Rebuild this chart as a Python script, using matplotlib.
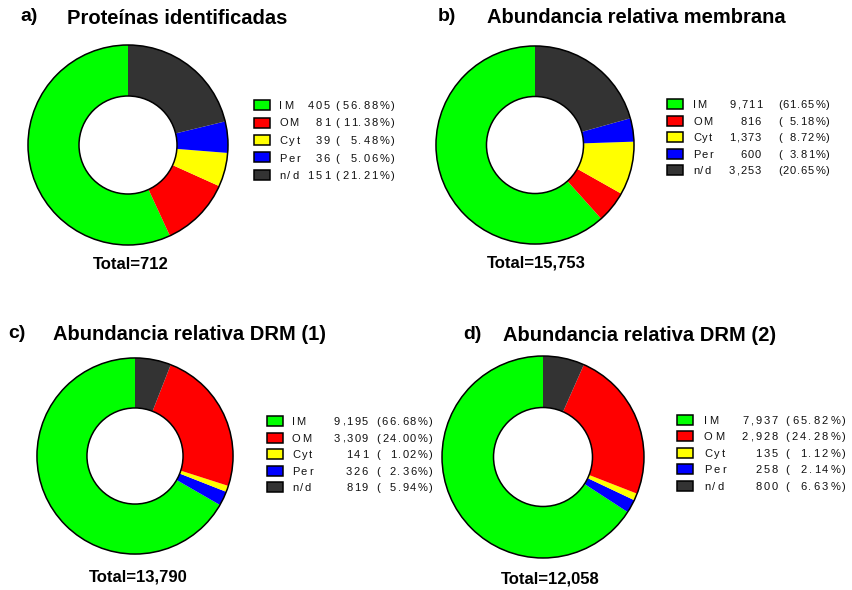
import matplotlib
matplotlib.use("Agg")
import matplotlib.pyplot as plt
from matplotlib.font_manager import FontProperties
from matplotlib.patches import Circle, Rectangle

plt.rcParams['font.family'] = ['Liberation Sans', 'DejaVu Sans']

# data
categories = ["IM", "OM", "Cyt", "Per", "n/d"]
colors = {"IM": "#00ff00", "OM": "#ff0000", "Cyt": "#ffff00",
          "Per": "#0000ff", "n/d": "#333333"}

titles = ["Proteínas identificadas", "Abundancia relativa membrana",
          "Abundancia relativa DRM (1)", "Abundancia relativa DRM (2)"]
tags = ["a)", "b)", "c)", "d)"]

counts_a = [405, 81, 39, 36, 151]
counts_b = [9711, 816, 1373, 600, 3253]
counts_c = [9195, 3309, 141, 326, 819]
counts_d = [7937, 2928, 135, 258, 800]

# wedge order (counter-clockwise from 12 o'clock)
order_a = ["IM", "OM", "Cyt", "Per", "n/d"]
order_b = ["IM", "OM", "Cyt", "Per", "n/d"]
order_c = ["IM", "Per", "Cyt", "OM", "n/d"]
order_d = ["IM", "Per", "Cyt", "OM", "n/d"]

W, H = 852, 590
fig = plt.figure(figsize=(W / 100, H / 100), dpi=100)
renderer = fig.canvas.get_renderer()

# layout in pixels
panels = [
    dict(counts=counts_a, order=order_a, cx=128, cy=145, r=102,
         tag=(20, 21), title=(67, 24), total=(131, 269),
         leg=dict(box=254, lab=279, cnt=330, par=335, end=395, y0=105, dy=17.5, tr=1.9)),
    dict(counts=counts_b, order=order_b, cx=535, cy=145, r=101,
         tag=(438, 21), title=(487, 23), total=(536, 268),
         leg=dict(box=667, lab=693, cnt=761, par=778, end=830, y0=104, dy=16.6, tr=1.1)),
    dict(counts=counts_c, order=order_c, cx=135, cy=456, r=100,
         tag=(8, 338), title=(53, 340), total=(138, 582),
         leg=dict(box=267, lab=292, cnt=368, par=376, end=433, y0=421, dy=16.6, tr=1.6)),
    dict(counts=counts_d, order=order_d, cx=543, cy=457, r=103,
         tag=(463, 339), title=(503, 341), total=(550, 583),
         leg=dict(box=677, lab=704, cnt=778, par=785, end=846, y0=420, dy=16.4, tr=2.1)),
]

leg_fp = FontProperties(family='Liberation Sans', size=8)


def width_px(s, fp):
    w, _, _ = renderer.get_text_width_height_descent("|" + s + "|", fp, ismath=False)
    w0, _, _ = renderer.get_text_width_height_descent("||", fp, ismath=False)
    return w - w0


def spaced_text(x, y, s, fp, track, ha='left'):
    # letter-spaced text, x/y in pixels (y = baseline)
    total = width_px(s, fp) + track * (len(s) - 1)
    if ha == 'right':
        x = x - total
    for i, ch in enumerate(s):
        if ch == " ":
            continue
        xi = x + width_px(s[:i], fp) + track * i
        fig.text(xi / W, 1 - y / H, ch, fontproperties=fp,
                 ha='left', va='baseline', color='#111111')


for k, p in enumerate(panels):
    counts = dict(zip(categories, p['counts']))
    total = sum(p['counts'])
    cx, cy, r = p['cx'], p['cy'], p['r']
    ax = fig.add_axes([(cx - r) / W, 1 - (cy + r) / H, 2 * r / W, 2 * r / H])
    vals = [counts[c] for c in p['order']]
    cols = [colors[c] for c in p['order']]
    ax.pie(vals, colors=cols, startangle=90, counterclock=True, radius=1,
           wedgeprops=dict(width=0.51, linewidth=0))
    ax.add_patch(Circle((0, 0), 1, fill=False, ec='black', lw=1.1))
    ax.add_patch(Circle((0, 0), 0.49, fill=False, ec='black', lw=1.1))
    ax.set_xlim(-1.02, 1.02)
    ax.set_ylim(-1.02, 1.02)
    ax.set_aspect('auto')
    ax.axis('off')

    # titles
    tx, ty = p['tag']
    fig.text(tx / W, 1 - ty / H, tags[k], fontsize=14, fontweight='bold',
             ha='left', va='baseline')
    tx, ty = p['title']
    fig.text(tx / W, 1 - ty / H, titles[k], fontsize=14.5, fontweight='bold',
             ha='left', va='baseline')
    tx, ty = p['total']
    fig.text(tx / W, 1 - ty / H, "Total={:,}".format(total), fontsize=12,
             fontweight='bold', ha='center', va='baseline')

    # legend
    lg = p['leg']
    for i, c in enumerate(categories):
        yc = lg['y0'] + i * lg['dy']
        fig.patches.append(Rectangle((lg['box'] / W, 1 - (yc + 5) / H),
                                     16 / W, 10 / H, transform=fig.transFigure,
                                     fc=colors[c], ec='black', lw=1.1))
        yb = yc + 4
        spaced_text(lg['lab'], yb, c, leg_fp, lg['tr'])
        spaced_text(lg['cnt'], yb, "{:,}".format(counts[c]), leg_fp, lg['tr'], ha='right')
        spaced_text(lg['par'], yb, "(", leg_fp, lg['tr'])
        pct = 100.0 * counts[c] / total
        spaced_text(lg['end'], yb, "{:.2f}%)".format(pct), leg_fp, lg['tr'], ha='right')

fig.savefig("out.png", dpi=100)
